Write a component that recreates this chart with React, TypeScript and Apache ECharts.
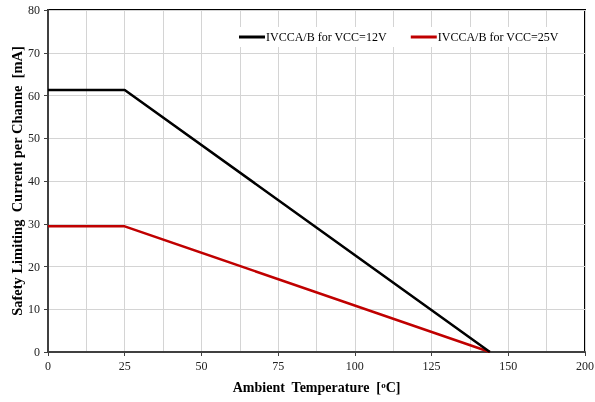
import React, { useEffect, useRef } from "react";
import * as echarts from "echarts";

const xTickLabels = ["0", "25", "50", "75", "100", "125", "150", "200"];
const temps = [0, 25, 144];
const current12V = [61.3, 61.3, 0];
const current25V = [29.4, 29.4, 0];
const seriesNames = ["IVCCA/B for VCC=12V", "IVCCA/B for VCC=25V"];

const FONT = "Liberation Serif";

export default function App() {
  const ref = useRef<HTMLDivElement>(null);
  useEffect(() => {
    if (!ref.current) return;
    const chart = echarts.init(ref.current, null, { renderer: "svg" });
    chart.setOption({
      animation: false,
      textStyle: { fontFamily: FONT },
      grid: {
        left: 48,
        right: 10,
        top: 10,
        bottom: 50,
        outerBoundsMode: "none",
        containLabel: false,
        show: true,
        borderColor: "#000",
        borderWidth: 2,
        backgroundColor: "#fff",
      },
      legend: {
        top: 27,
        left: 235,
        itemGap: 24,
        itemWidth: 26,
        itemHeight: 3,
        padding: [4, 20, 4, 4],
        backgroundColor: "#fff",
        icon: "rect",
        textStyle: { fontFamily: FONT, fontSize: 12, color: "#000", padding: [0, 0, 0, -4] },
        data: seriesNames,
      },
      xAxis: {
        type: "value",
        min: 0,
        max: 175,
        interval: 25,
        name: "{a|Ambient  Temperature  [}{s|o}{a|C]}",
        nameLocation: "middle",
        nameGap: 28,
        nameMoveOverlap: false,
        nameTextStyle: {
          rich: {
            a: { fontFamily: FONT, fontSize: 14, fontWeight: "bold", color: "#000" },
            s: { fontFamily: FONT, fontSize: 9, fontWeight: "bold", color: "#000", verticalAlign: "top", padding: [0, 0, 6, 0] },
          },
        },
        axisLine: { show: true, lineStyle: { color: "#404040", width: 2 } },
        axisTick: { show: true, length: 4, lineStyle: { color: "#404040" } },
        axisLabel: {
          fontFamily: FONT,
          fontSize: 12,
          color: "#222",
          margin: 8,
          formatter: (v: number) => xTickLabels[Math.round(v / 25)] ?? "",
        },
        splitLine: { show: true, lineStyle: { color: "#d4d4d4", width: 1 } },
        minorTick: { show: false, splitNumber: 2 },
        minorSplitLine: { show: true, lineStyle: { color: "#d4d4d4", width: 1 } },
      },
      yAxis: {
        type: "value",
        min: 0,
        max: 80,
        interval: 10,
        name: "Safety Limiting  Current per Channe  [mA]",
        nameLocation: "middle",
        nameGap: 24,
        nameMoveOverlap: false,
        nameTextStyle: { fontFamily: FONT, fontSize: 14.5, fontWeight: "bold", color: "#000" },
        axisLine: { show: true, lineStyle: { color: "#404040", width: 2 } },
        axisTick: { show: true, length: 4, lineStyle: { color: "#404040" } },
        axisLabel: { fontFamily: FONT, fontSize: 12, color: "#222", margin: 8 },
        splitLine: { show: true, lineStyle: { color: "#d4d4d4", width: 1 } },
      },
      series: [
        {
          name: seriesNames[0],
          type: "line",
          data: temps.map((t, i) => [t, current12V[i]]),
          showSymbol: false,
          symbol: "none",
          lineStyle: { color: "#000", width: 2.5 },
          itemStyle: { color: "#000" },
          z: 3,
        },
        {
          name: seriesNames[1],
          type: "line",
          data: temps.map((t, i) => [t, current25V[i]]),
          showSymbol: false,
          symbol: "none",
          lineStyle: { color: "#c00000", width: 2.5 },
          itemStyle: { color: "#c00000" },
          z: 2,
        },
      ],
    });
    return () => chart.dispose();
  }, []);
  return (
    <div
      ref={ref}
      style={{ position: "fixed", left: 0, top: 0, width: 595, height: 402 }}
    />
  );
}
